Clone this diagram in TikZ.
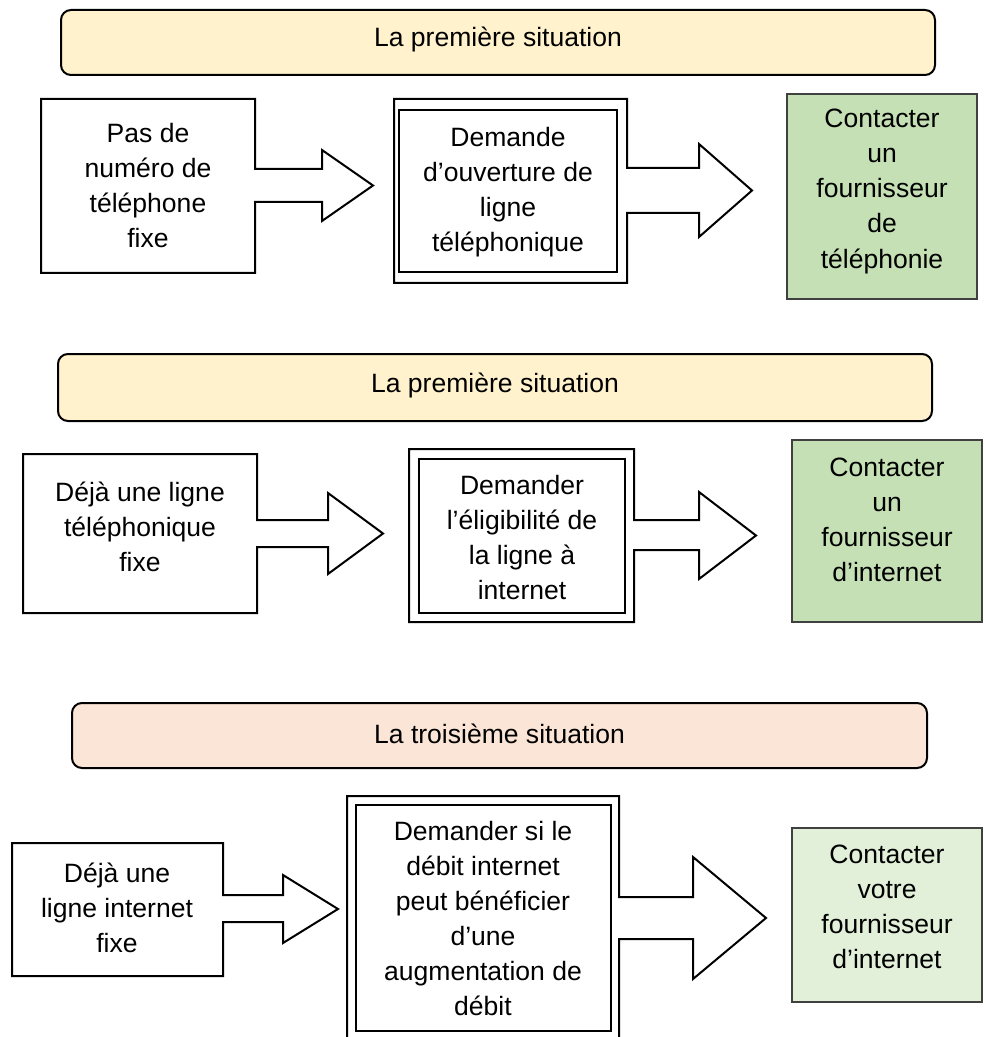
\documentclass[tikz,border=0pt]{standalone}
\usepackage{fontspec}
\setmainfont{Liberation Sans}
\definecolor{bannerYellow}{HTML}{FFF2CC}
\definecolor{bannerPeach}{HTML}{FBE5D6}
\definecolor{greenDark}{HTML}{C5E0B4}
\definecolor{greenLight}{HTML}{E2F0D9}

\begin{document}
\begin{tikzpicture}[x=0.75pt,y=0.75pt,yscale=-1,xscale=1,
    boxline/.style={line width=1.5pt,line join=miter},
    innerline/.style={line width=1pt},
    banner/.style={boxline,rounded corners=7.5pt},
    greenbox/.style={draw=black!75,line width=1pt},
    txt/.style={anchor=base,inner sep=0pt,align=center,font=\fontsize{19.9}{26.25}\selectfont}]
\useasboundingbox (0,0) rectangle (985,1037);

% premiere situation (1)
\draw [banner,fill=bannerYellow] (61,10) rectangle (935,75);
\node [txt] (titre1) at (498,47) {La première situation};
\draw [boxline] (41,99) -- (255,99) -- (255,169) -- (322,169) -- (322,150) -- (373,185.5) -- (322,221) -- (322,202) -- (255,202) -- (255,273) -- (41,273) -- cycle;
\node [txt] (pasnum) at (148,247.5) {Pas de\\numéro de\\téléphone\\fixe};
\draw [boxline] (394,99) -- (627,99) -- (627,168) -- (699,168) -- (699,144) -- (752,190.5) -- (699,237) -- (699,213) -- (627,213) -- (627,283) -- (394,283) -- cycle;
\draw [innerline] (399,110) rectangle (617,272);
\node [txt] (ouverture) at (508,251.5) {Demande\\d’ouverture de\\ligne\\téléphonique};
\draw [greenbox,fill=greenDark] (787,94) rectangle (977,299);
\node [txt] (fourntel) at (882,268) {Contacter\\un\\fournisseur\\de\\téléphonie};

% premiere situation (2)
\draw [banner,fill=bannerYellow] (58,354) rectangle (932,421);
\node [txt] (titre2) at (495,392) {La première situation};
\draw [boxline] (23,454) -- (257,454) -- (257,520) -- (328,520) -- (328,493) -- (383,533.5) -- (328,574) -- (328,547) -- (257,547) -- (257,613) -- (23,613) -- cycle;
\node [txt] (dejatel) at (140,571.5) {Déjà une ligne\\téléphonique\\fixe};
\draw [boxline] (409,449) -- (634,449) -- (634,520) -- (699,520) -- (699,492) -- (756,535.5) -- (699,579) -- (699,550) -- (634,550) -- (634,622) -- (409,622) -- cycle;
\draw [innerline] (419,459) rectangle (625,613);
\node [txt] (eligib) at (522,599.5) {Demander\\l’éligibilité de\\la ligne à\\internet};
\draw [greenbox,fill=greenDark] (792,440) rectangle (982,622);
\node [txt] (fournint) at (887,581.5) {Contacter\\un\\fournisseur\\d’internet};

% troisieme situation
\draw [banner,fill=bannerPeach] (72,703) rectangle (927,768);
\node [txt] (titre3) at (499.5,743) {La troisième situation};
\draw [boxline] (12,843) -- (223,843) -- (223,895) -- (283,895) -- (283,875) -- (338,909) -- (283,943) -- (283,922) -- (223,922) -- (223,976) -- (12,976) -- cycle;
\node [txt] (dejaint) at (117,952) {Déjà une\\ligne internet\\fixe};
\draw [boxline] (347,796) -- (619,796) -- (619,897) -- (693,897) -- (693,857) -- (766,918) -- (693,979) -- (693,939) -- (619,939) -- (619,1045) -- (347,1045) -- cycle;
\draw [innerline] (356,805) rectangle (611,1031);
\node [txt] (debit) at (483,1015) {Demander si le\\débit internet\\peut bénéficier\\d’une\\augmentation de\\débit};
\draw [greenbox,fill=greenLight] (792,828) rectangle (982,1002);
\node [txt] (votrefourn) at (887,968) {Contacter\\votre\\fournisseur\\d’internet};
\end{tikzpicture}
\end{document}
